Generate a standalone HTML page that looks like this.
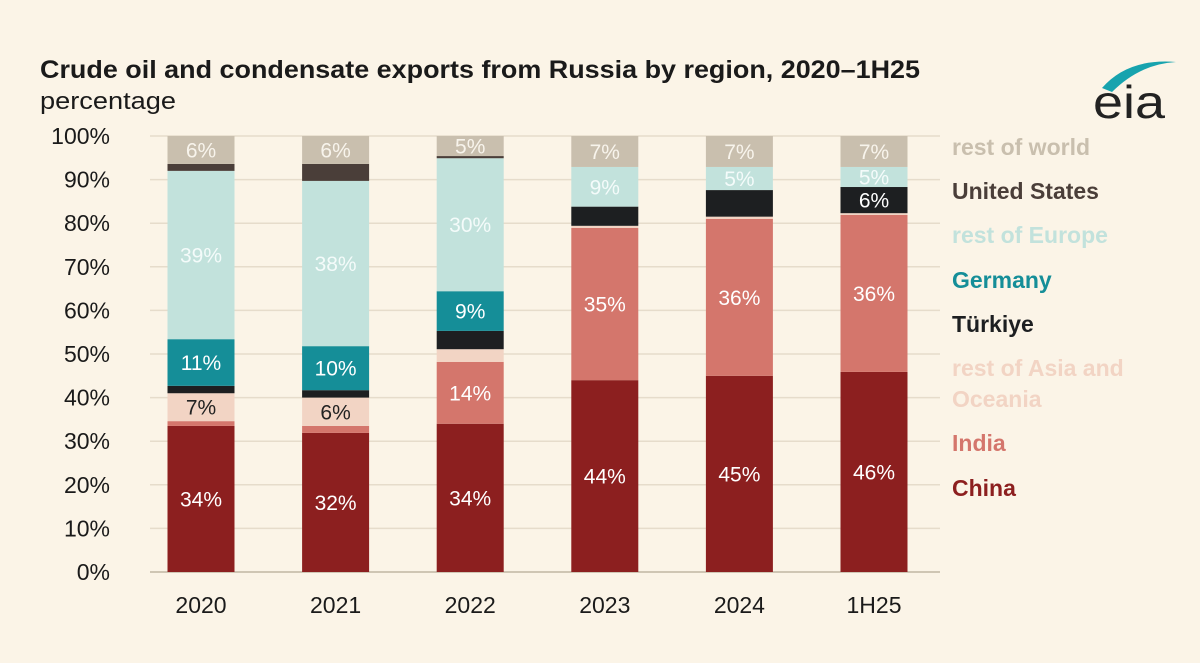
<!DOCTYPE html>
<html><head><meta charset="utf-8"><style>
html,body{margin:0;padding:0;background:#fbf4e7;}
svg{display:block;font-family:"Liberation Sans",sans-serif;}
</style></head><body>
<svg id="chart" width="1200" height="663" viewBox="0 0 1200 663">
<rect width="1200" height="663" fill="#fbf4e7"/>
<text x="40" y="78" font-size="25" font-weight="bold" fill="#1a1a1a" textLength="880" lengthAdjust="spacingAndGlyphs">Crude oil and condensate exports from Russia by region, 2020–1H25</text>
<text x="40" y="109" font-size="24" fill="#1a1a1a" textLength="136" lengthAdjust="spacingAndGlyphs">percentage</text>
<g>
<path d="M1102 88 Q1128 58 1176 62 Q1140 64 1112 92 Z" fill="#17a3ae"/>
<text x="1093" y="118" font-size="46" fill="#222" textLength="72" lengthAdjust="spacingAndGlyphs">eia</text>
</g>
<g id="grid"></g><g id="bars"></g><g id="legend"></g>
</svg>
<script>
const categories=["2020","2021","2022","2023","2024","1H25"];
const seriesNames=["China","India","rest of Asia and Oceania","Türkiye","Germany","rest of Europe","United States","rest of world"];
const china=[33.5,31.9,34,44,45,45.9];
const india=[1.1,1.6,14.2,34.9,36,36];
const restAsia=[6.4,6.5,2.9,0.5,0.5,0.4];
const turkiye=[1.7,1.7,4.2,4.4,6.1,6];
const germany=[10.7,10.1,9.1,0,0,0];
const restEurope=[38.6,37.9,30.5,9.1,5.3,4.6];
const unitedStates=[1.6,3.9,0.5,0,0,0];
const restWorld=[6.4,6.4,4.6,7.1,7.1,7.1];
const labelChina=["34%","32%","34%","44%","45%","46%"];
const labelIndia=["","","14%","35%","36%","36%"];
const labelRestAsia=["7%","6%","","","",""];
const labelTurkiye=["","","","","","6%"];
const labelGermany=["11%","10%","9%","","",""];
const labelRestEurope=["39%","38%","30%","9%","5%","5%"];
const labelUS=["","","","","",""];
const labelRestWorld=["6%","6%","5%","7%","7%","7%"];
const yTicks=[0,10,20,30,40,50,60,70,80,90,100];
const series=[china,india,restAsia,turkiye,germany,restEurope,unitedStates,restWorld];
const labels=[labelChina,labelIndia,labelRestAsia,labelTurkiye,labelGermany,labelRestEurope,labelUS,labelRestWorld];
const colors=["#8c1f1f","#d4766c","#f2d4c4","#1d1f21","#158e98","#c2e2dc","#4a3e39","#c9bfae"];
const textColors=["#fff","#fff","#222","#fff","#fff","#f4fbfa","#fff","#f8f4ec"];
const legendColors=["#8c1f1f","#d4766c","#f2d4c4","#1d1f21","#158e98","#c2e2dc","#4a3e39","#c9bfae"];
const NS="http://www.w3.org/2000/svg";
const x0=150,x1=940,y0=572,yTop=136,step=134.6,bw=67;
const y=v=>y0-(v/100)*(y0-yTop);
const xc=i=>201+i*step;
function el(t,a,p){const e=document.createElementNS(NS,t);for(const k in a)e.setAttribute(k,a[k]);p.appendChild(e);return e;}
const grid=document.getElementById('grid');
yTicks.forEach(t=>{
 const l=el('line',{x1:x0,x2:x1,y1:y(t),y2:y(t),stroke:t===0?'#cfc6b4':'#e6dccb','stroke-width':t===0?2:1.5},grid);
 
 
 const tx=el('text',{x:110,y:y(t)+8,'font-size':23,'text-anchor':'end',fill:'#1a1a1a'},grid);
 tx.textContent=t+'%';
 
 
});
const bars=document.getElementById('bars');
categories.forEach((c,i)=>{
 let acc=0;
 series.forEach((s,j)=>{
  const v=s[i];
  if(v>0){
   const r=el('rect',{x:xc(i)-bw/2,y:y(acc+v),width:bw,height:y(acc)-y(acc+v),fill:colors[j]},bars);
   
   
   const lb=labels[j][i];
   if(lb){
    const t=el('text',{x:xc(i),y:(y(acc)+y(acc+v))/2+7.5,'font-size':21,'text-anchor':'middle',fill:textColors[j]},bars);
    t.textContent=lb;
    
    
   }
  }
  acc+=v;
 });
 const t=el('text',{x:xc(i),y:613,'font-size':23,'text-anchor':'middle',fill:'#1a1a1a'},bars);
 t.textContent=c;
 
 
});
const leg=document.getElementById('legend');
const legY=[496,451,376,332,288,243,199,155];
seriesNames.forEach((n,j)=>{
 const lines=j===2?["rest of Asia and","Oceania"]:[n];
 lines.forEach((ln,k)=>{
  const t=el('text',{x:952,y:legY[j]+k*31,'font-size':23,'font-weight':'bold',fill:legendColors[j]},leg);
  t.textContent=ln;
  
  
 });
});
</script>
</body></html>
